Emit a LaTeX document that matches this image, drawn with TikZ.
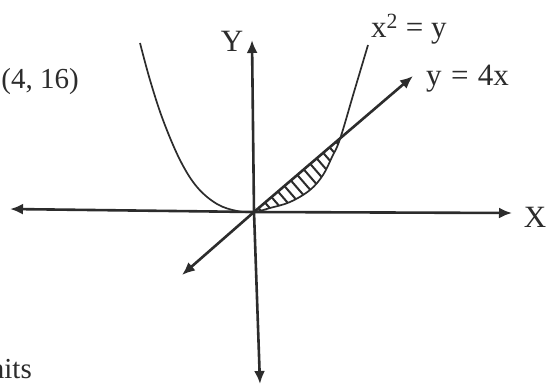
\documentclass[tikz,border=0pt]{standalone}
\usepackage{fontspec}
\setmainfont{Liberation Serif}
\usetikzlibrary{arrows.meta}
\definecolor{ink}{HTML}{2c2c2c}
\begin{document}
\begin{tikzpicture}[x=1pt,y=-1pt,
  axisline/.style={draw=ink,line width=2.6pt,-{Latex[length=13pt,width=11pt]}},
  curveline/.style={draw=ink,line width=1.7pt},
  hatchline/.style={draw=ink,line width=2pt},
  lbl/.style={text=ink,font=\fontsize{31}{34}\selectfont,inner sep=0pt},
  sidelbl/.style={text=ink,font=\fontsize{29}{32}\selectfont,inner sep=0pt}]
\useasboundingbox (0,0) rectangle (546,385);
\clip (0,0) rectangle (546,385);
\fill[white] (0,0) rectangle (546,385);
% named points
\coordinate (O) at (254,212);
\coordinate (xl) at (10,209);
\coordinate (xr) at (512,213);
\coordinate (yt) at (252,40);
\coordinate (yb) at (260,384);
\coordinate (la) at (182,275);
\coordinate (lb) at (413,76);
% hatching between line and curve
\begin{scope}
  \clip plot[smooth,tension=0.6] coordinates {(254,212) (270,208) (290,202) (310,190) (323,175) (332,157) (340,139)} -- cycle;
  \foreach \t in {6,14.5,...,125}
    \draw[hatchline] ({254+0.755*\t-13},{212-0.656*\t-15}) -- ++(26,30);
\end{scope}
% parabola x^2 = y
\draw[curveline] plot[smooth,tension=0.6] coordinates {(140,43) (150,80) (163,120) (180,160) (197,187) (217,204) (237,211) (254,212) (270,208) (290,202) (310,190) (323,175) (332,157) (340,139) (354,92) (368,45)};
% axes
\draw[axisline] (O) -- (xr);
\draw[axisline] (O) -- (xl);
\draw[axisline] (O) -- (yt);
\draw[axisline] (O) -- (yb);
% line y = 4x
\draw[axisline] (O) -- (lb);
\draw[axisline] (O) -- (la);
% labels
\node[lbl] (Ylab) at (232,41) {Y};
\node[lbl] (Xlab) at (535,217) {X};
\node[lbl,anchor=base west] (parlab) at (371,38) {x\textsuperscript{2} = y};
\node[lbl,anchor=base west] (linlab) at (426,86) {y\hspace{0.3em}=\hspace{0.3em}4x};
\node[sidelbl,anchor=east] (pt) at (79,82) {(4, 16)};
\node[sidelbl,anchor=base east] (un) at (32,378) {units};
\end{tikzpicture}
\end{document}
